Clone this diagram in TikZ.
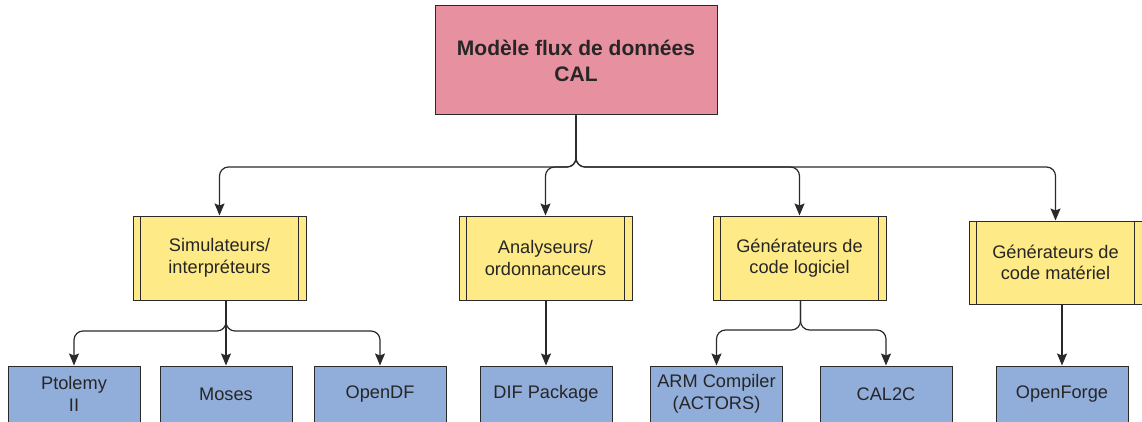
\documentclass[tikz,border=0pt]{standalone}
\usepackage{fontspec}
\setmainfont{Liberation Sans}
\usetikzlibrary{arrows.meta}
\definecolor{pinkfill}{HTML}{E791A0}
\definecolor{yelfill}{HTML}{FEEA86}
\definecolor{bluefill}{HTML}{91ADDA}
\definecolor{edgecol}{HTML}{2A2A2A}
\tikzset{
  topbox/.style={draw=edgecol, line width=1pt, fill=pinkfill, minimum width=282pt, minimum height=109pt, align=center, font=\fontsize{21}{26}\selectfont\bfseries, text=black!85, inner sep=0pt},
  yelbox/.style={draw=edgecol, line width=1pt, fill=yelfill, minimum width=173pt, minimum height=84pt, align=center, font=\fontsize{18.2}{21.5}\selectfont, text=black!85, inner sep=0pt,
    append after command={
      \pgfextra{\let\mynode\tikzlastnode}
      ([xshift=8pt]\mynode.north west) edge[draw=edgecol, line width=1pt] ([xshift=8pt]\mynode.south west)
      ([xshift=-8pt]\mynode.north east) edge[draw=edgecol, line width=1pt] ([xshift=-8pt]\mynode.south east)
    }},
  bluebox/.style={draw=edgecol, line width=1pt, fill=bluefill, minimum width=132pt, minimum height=56pt, align=center, font=\fontsize{18.2}{22}\selectfont, text=black!85, inner sep=0pt},
  conn/.style={draw=edgecol, line width=1.2pt, rounded corners=9pt, -{Stealth[length=12pt,width=10pt,inset=2pt]}}
}
\begin{document}
\begin{tikzpicture}[x=1pt,y=-1pt]
\useasboundingbox (0,0) rectangle (1142,422);
\node[topbox] (cal) at (576,60.5) {Modèle flux de données\\CAL};
\node[yelbox] (sim) at (219.5,258) {Simulateurs/\\interpréteurs};
\node[yelbox] (ana) at (545.5,258) {Analyseurs/\\ordonnanceurs};
\node[yelbox] (gsw) at (799.5,258) {Générateurs de\\code logiciel};
\node[yelbox, minimum height=83pt] (ghw) at (1055.5,262.5) {Générateurs de\\code matériel};
\node[bluebox] (pto) at (74,394) {Ptolemy\\II};
\node[bluebox] (mos) at (226,394) {Moses};
\node[bluebox] (odf) at (380,394) {OpenDF};
\node[bluebox] (dif) at (546,394) {DIF Package};
\node[bluebox] (arm) at (716.5,394) {ARM Compiler\\(ACTORS)};
\node[bluebox] (c2c) at (886,394) {CAL2C};
\node[bluebox] (ofg) at (1062,394) {OpenForge};
\coordinate (bus) at (576,167);
\coordinate (j1) at (226,331);
\coordinate (j3) at (800.5,330);
\draw[conn] (cal.south) -- (bus) -| (sim.north);
\draw[conn] (cal.south) -- (bus) -| (ana.north);
\draw[conn] (cal.south) -- (bus) -| (gsw.north);
\draw[conn] (cal.south) -- (bus) -| (ghw.north);
\draw[conn] (sim.south -| j1) -- (j1) -| (pto.north);
\draw[conn] (sim.south -| j1) -- (mos.north);
\draw[conn] (sim.south -| j1) -- (j1) -| (odf.north);
\draw[conn] (ana.south -| dif.north) -- (dif.north);
\draw[conn] (gsw.south -| j3) -- (j3) -| (arm.north);
\draw[conn] (gsw.south -| j3) -- (j3) -| (c2c.north);
\draw[conn] (ghw.south -| ofg.north) -- (ofg.north);
\end{tikzpicture}
\end{document}
